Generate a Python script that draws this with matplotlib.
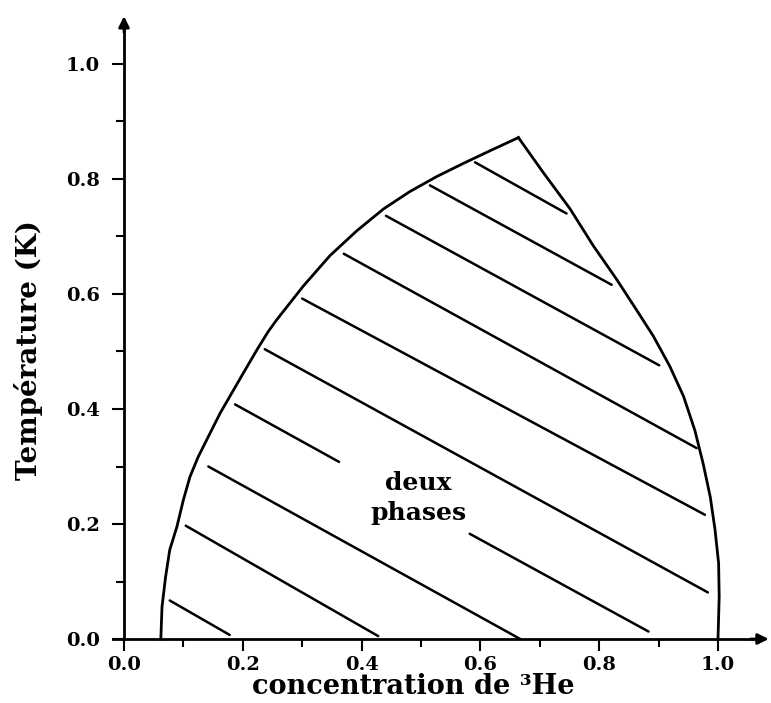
"""Diagramme de phase 3He-4He : zone de separation en deux phases."""

import matplotlib
matplotlib.use("Agg")
import matplotlib.pyplot as plt
from matplotlib.ticker import FixedLocator, FormatStrFormatter

plt.rcParams["font.family"] = ["DejaVu Serif"]
plt.rcParams["font.weight"] = "bold"

# branche gauche (riche en 4He), de T=0 au point tricritique
left_x = [0.062, 0.064, 0.070, 0.077, 0.089, 0.100, 0.111, 0.125, 0.142,
          0.162, 0.181, 0.204, 0.225, 0.243, 0.257, 0.302, 0.347, 0.392,
          0.437, 0.481, 0.526, 0.571, 0.616, 0.664]
left_t = [0.000, 0.056, 0.108, 0.155, 0.195, 0.242, 0.282, 0.317, 0.352,
          0.393, 0.427, 0.468, 0.505, 0.535, 0.555, 0.614, 0.667, 0.710,
          0.748, 0.778, 0.804, 0.827, 0.849, 0.872]

# branche droite (riche en 3He), du point tricritique a T=0
right_x = [0.664, 0.706, 0.751, 0.790, 0.829, 0.863, 0.891, 0.919, 0.942,
           0.961, 0.975, 0.987, 0.995, 1.001, 1.002, 1.000]
right_t = [0.872, 0.811, 0.748, 0.684, 0.626, 0.572, 0.527, 0.474, 0.422,
           0.363, 0.305, 0.247, 0.190, 0.132, 0.074, 0.000]

# hachures (segments)
hatch_x0 = [0.077, 0.104, 0.142, 0.187, 0.582, 0.237, 0.300, 0.370, 0.441, 0.515, 0.591]
hatch_y0 = [0.067, 0.197, 0.300, 0.408, 0.183, 0.504, 0.592, 0.670, 0.736, 0.789, 0.829]
hatch_x1 = [0.178, 0.428, 0.667, 0.362, 0.883, 0.983, 0.978, 0.964, 0.901, 0.821, 0.745]
hatch_y1 = [0.007, 0.005, 0.000, 0.308, 0.013, 0.081, 0.216, 0.332, 0.476, 0.616, 0.740]

ticks_major = [0.0, 0.2, 0.4, 0.6, 0.8, 1.0]
ticks_minor = [0.1, 0.3, 0.5, 0.7, 0.9]

fig = plt.figure(figsize=(7.71, 7.03), dpi=100)
ax = fig.add_axes([0, 0, 1, 1])
ax.set_xlim(-124 / 594, 647 / 594)
ax.set_ylim(-64 / 575, 639 / 575)

ax.plot(left_x, left_t, color="black", lw=2.0, solid_joinstyle="round")
ax.plot(right_x, right_t, color="black", lw=2.0, solid_joinstyle="round")
for x0, y0, x1, y1 in zip(hatch_x0, hatch_y0, hatch_x1, hatch_y1):
    ax.plot([x0, x1], [y0, y1], color="black", lw=1.8, solid_capstyle="round")

ax.text(0.495, 0.271, "deux", ha="center", va="center", fontsize=18)
ax.text(0.495, 0.219, "phases", ha="center", va="center", fontsize=18)

# axes avec fleches
for side in ("top", "right"):
    ax.spines[side].set_visible(False)
ax.spines["left"].set_position(("data", 0))
ax.spines["bottom"].set_position(("data", 0))
ax.spines["left"].set_bounds(0, 1.06)
ax.spines["bottom"].set_bounds(-0.018, 1.06)
for side in ("left", "bottom"):
    ax.spines[side].set_linewidth(2.0)
ax.annotate("", xy=(0, 1.088), xytext=(0, 1.05),
            arrowprops=dict(arrowstyle="-|>", color="black", lw=2, mutation_scale=16))
ax.annotate("", xy=(1.09, 0), xytext=(1.05, 0),
            arrowprops=dict(arrowstyle="-|>", color="black", lw=2, mutation_scale=16),
            annotation_clip=False)

for axis in (ax.xaxis, ax.yaxis):
    axis.set_major_locator(FixedLocator(ticks_major))
    axis.set_minor_locator(FixedLocator(ticks_minor))
    axis.set_major_formatter(FormatStrFormatter("%.1f"))
ax.tick_params(which="major", direction="out", length=8.5, width=1.5,
               labelsize=14)
ax.tick_params(which="minor", direction="out", length=5.5, width=1.5)
ax.tick_params(axis="x", which="major", pad=3.5)
ax.tick_params(axis="y", which="major", pad=9)

ax.set_xlabel("concentration de ³He", fontsize=19.5, fontweight="bold")
ax.set_ylabel("Température (K)", fontsize=20, fontweight="bold")
ax.xaxis.label.set_va("baseline")
ax.yaxis.label.set_va("center")
ax.xaxis.set_label_coords(413 / 771, 1 - 694 / 703)
ax.yaxis.set_label_coords(29 / 771, 1 - 350 / 703)

fig.savefig("out.png", dpi=100)
